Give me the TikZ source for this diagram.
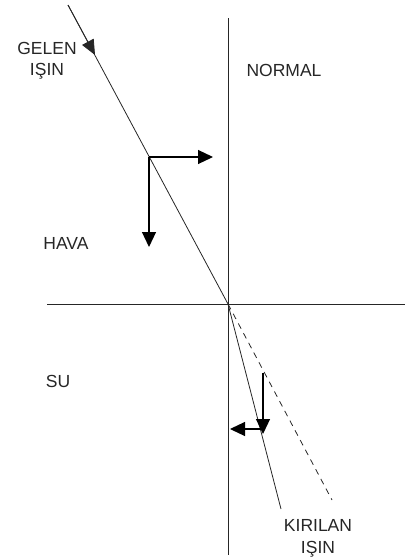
\documentclass[tikz,border=0pt]{standalone}
\usepackage{fontspec}
\setmainfont{Liberation Sans}
\usetikzlibrary{arrows.meta}
\begin{document}
\begin{tikzpicture}[x=1pt,y=-1pt]
\tikzset{
    refrRay/.style={black!85,line width=0.8pt},
    refrComp/.style={black,line width=1.2pt,-{Triangle[length=15pt,width=14pt]}},
    refrLabel/.style={font=\fontsize{17.5}{20}\selectfont,text=black!85,anchor=base,inner sep=0pt}
}
\useasboundingbox (0,0) rectangle (409,560);
% normal and surface
\coordinate (O) at (228,304);   % point of incidence
\coordinate (NT) at (228,18);   % normal top
\coordinate (NB) at (228,555);  % normal bottom
\coordinate (SL) at (47,304);   % surface left
\coordinate (SR) at (405,304);  % surface right
% rays
\coordinate (S) at (68,5);      % incident ray start
\coordinate (SA) at (95,55);    % incident ray arrow
\coordinate (R) at (281,509);   % refracted ray end
\coordinate (D) at (332,500);   % extension end
% components
\coordinate (P) at (149,157);   % on incident ray
\coordinate (PH) at (213,157);
\coordinate (PV) at (149,247);
\coordinate (Q) at (261,429);   % on refracted ray
\coordinate (QH) at (230,429);
\coordinate (QT) at (263,373);
\coordinate (QV) at (263,434);

\draw[refrRay] (NT) -- (NB);
\draw[refrRay] (SL) -- (SR);
\draw[refrRay] (S) -- (O) -- (R);
\draw[refrRay,dash pattern=on 6pt off 5pt] (O) -- (D);
\draw[refrRay,-{Triangle[length=15pt,width=13pt]}] (S) -- (SA);

\draw[refrComp] (P) -- (PH);
\draw[refrComp] (P) -- (PV);
\draw[refrComp] (QT) -- (QV);
\draw[refrComp] (Q) -- (QH);

\node[refrLabel] (gelen) at (47,54) {GELEN};
\node[refrLabel] (gelenIsin) at (47,75) {IŞIN};
\node[refrLabel] (normal) at (284,76) {NORMAL};
\node[refrLabel] (hava) at (66,249) {HAVA};
\node[refrLabel] (su) at (58,387) {SU};
\node[refrLabel] (kirilan) at (318,531) {KIRILAN};
\node[refrLabel] (kirilanIsin) at (318,553) {IŞIN};
\end{tikzpicture}
\end{document}
